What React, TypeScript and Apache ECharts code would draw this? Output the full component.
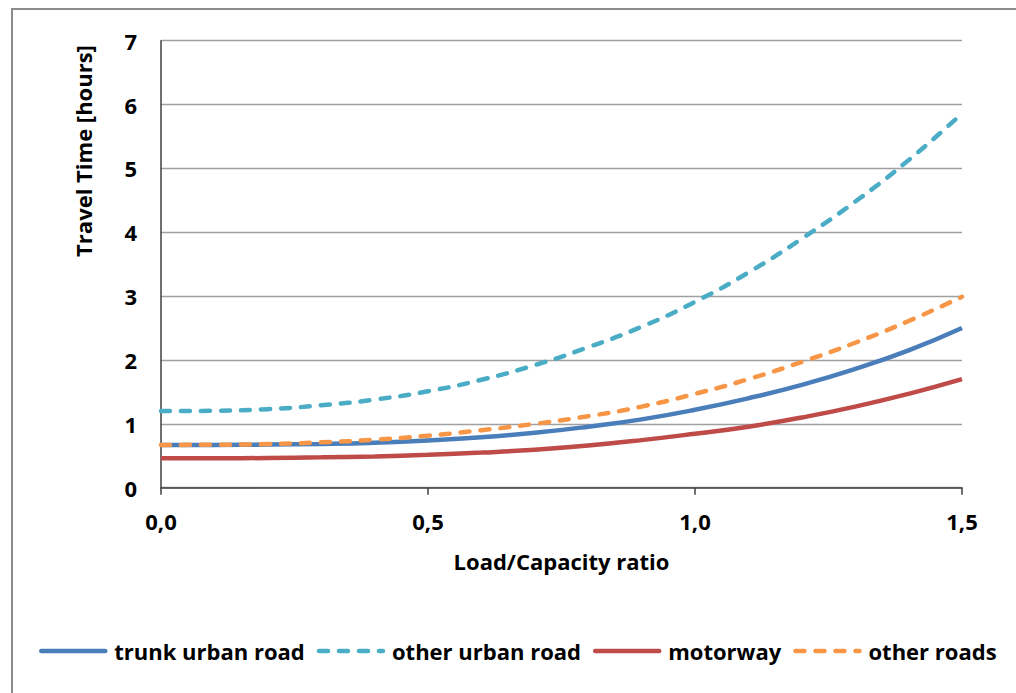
import React, { useEffect, useRef } from "react";
import * as echarts from "echarts";

const ratios = [0, 0.1, 0.2, 0.3, 0.4, 0.5, 0.6, 0.7, 0.8, 0.9, 1.0, 1.1, 1.2, 1.3, 1.4, 1.5];
const trunkUrbanRoad = [0.67, 0.67, 0.675, 0.685, 0.705, 0.74, 0.79, 0.86, 0.955, 1.07, 1.22, 1.4, 1.61, 1.86, 2.15, 2.5];
const otherUrbanRoad = [1.2, 1.205, 1.23, 1.29, 1.38, 1.51, 1.69, 1.92, 2.2, 2.52, 2.91, 3.37, 3.9, 4.48, 5.13, 5.86];
const motorway = [0.46, 0.46, 0.465, 0.475, 0.49, 0.515, 0.55, 0.595, 0.66, 0.745, 0.845, 0.955, 1.1, 1.27, 1.47, 1.7];
const otherRoads = [0.67, 0.672, 0.684, 0.71, 0.752, 0.815, 0.9, 1.0, 1.12, 1.27, 1.47, 1.7, 1.97, 2.27, 2.61, 2.99];

const seriesNames = ["trunk urban road", "other urban road", "motorway", "other roads"];
const xTicks = [0, 0.5, 1.0, 1.5];
const yTicks = [0, 1, 2, 3, 4, 5, 6, 7];
const yTitle = "Travel Time [hours]";
const xTitle = "Load/Capacity ratio";

const FONT = "'Open Sans', 'DejaVu Sans', sans-serif";

export default function App() {
  const ref = useRef<HTMLDivElement>(null);
  useEffect(() => {
    if (!ref.current) return;
    const chart = echarts.init(ref.current, undefined, { renderer: "svg" });
    const toPairs = (vals: number[]) => ratios.map((r, i) => [r, vals[i]]);
    const mk = (name: string, vals: number[], color: string, dashed: boolean) => ({
      name,
      type: "line",
      data: toPairs(vals),
      smooth: true,
      symbol: "none",
      lineStyle: {
        color,
        width: 4.5,
        type: dashed ? [9, 11] : "solid",
        cap: dashed ? "round" : "butt",
      },
      itemStyle: { color, opacity: 0 },
      z: 3,
    });
    chart.setOption({
      animation: false,
      backgroundColor: "#ffffff",
      textStyle: { fontFamily: FONT },
      grid: { left: 161, right: 54, top: 40.7, bottom: 205.3, containLabel: false },
      xAxis: {
        type: "value",
        min: xTicks[0],
        max: xTicks[xTicks.length - 1],
        interval: 0.5,
        name: xTitle,
        nameLocation: "middle",
        nameGap: 62,
        nameTextStyle: { fontFamily: FONT, fontWeight: "bold", fontSize: 22, color: "#000" },
        axisLine: { show: true, lineStyle: { color: "#404040", width: 1.5 } },
        axisTick: { show: true, length: 7, lineStyle: { color: "#404040", width: 1.5 } },
        axisLabel: {
          margin: 22,
          fontFamily: FONT,
          fontWeight: "bold",
          fontSize: 22,
          color: "#000",
          formatter: (v: number) => v.toFixed(1).replace(".", ","),
        },
        splitLine: { show: false },
      },
      yAxis: {
        type: "value",
        min: yTicks[0],
        max: yTicks[yTicks.length - 1],
        interval: 1,
        axisLine: { show: true, lineStyle: { color: "#404040", width: 1.5 } },
        axisTick: { show: false },
        axisLabel: {
          margin: 24,
          fontFamily: FONT,
          fontWeight: "bold",
          fontSize: 22,
          color: "#000",
        },
        splitLine: { show: true, lineStyle: { color: "#a0a0a0", width: 1.3 } },
      },
      legend: {
        data: seriesNames,
        left: 34,
        top: 633,
        itemWidth: 64,
        itemHeight: 14,
        itemGap: 12,
        itemStyle: { opacity: 0, borderWidth: 0 },
        lineStyle: { width: 4.5, cap: "round" },
        textStyle: {
          fontFamily: FONT,
          fontWeight: "bold",
          fontSize: 22,
          color: "#000",
          lineHeight: 26,
          padding: [0, 0, 0, 4],
        },
      },
      graphic: [
        {
          type: "rect",
          shape: { x: 12, y: 9, width: 1030, height: 720 },
          style: { fill: "none", stroke: "#8c8c8c", lineWidth: 2 },
          silent: true,
        },
        {
          type: "text",
          x: 83,
          y: 151,
          rotation: Math.PI / 2,
          style: {
            text: yTitle,
            fontFamily: FONT,
            fontWeight: "bold",
            fontSize: 22,
            fill: "#000",
            align: "center",
            verticalAlign: "middle",
          },
        },
      ],
      series: [
        mk(seriesNames[0], trunkUrbanRoad, "#4a7ebb", false),
        mk(seriesNames[1], otherUrbanRoad, "#4bacc6", true),
        mk(seriesNames[2], motorway, "#be4b48", false),
        mk(seriesNames[3], otherRoads, "#f79646", true),
      ],
    });
    return () => chart.dispose();
  }, []);
  return (
    <div
      ref={ref}
      style={{ position: "absolute", left: 0, top: 0, width: 1016, height: 693, background: "#fff" }}
    />
  );
}
